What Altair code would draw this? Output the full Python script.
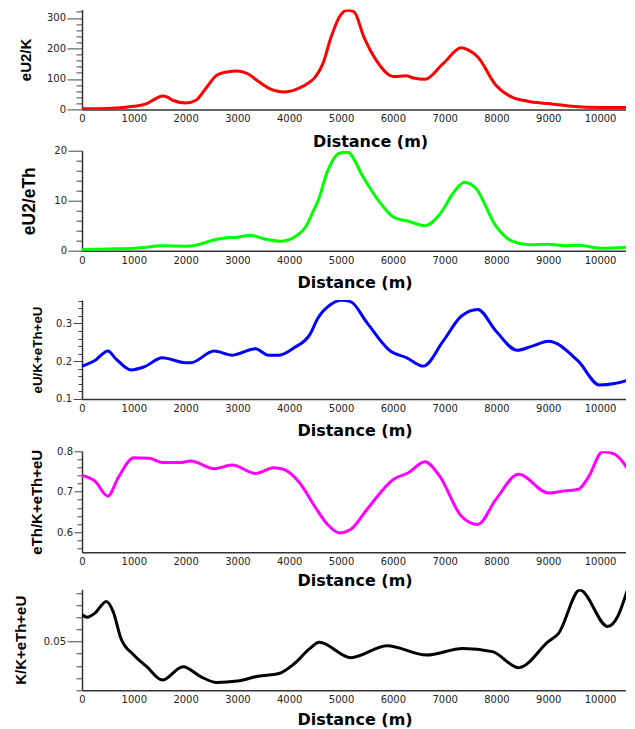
import altair as alt
import pandas as pd

# ---- data ----
d1 = [0, 500, 800, 1000, 1250, 1400, 1550, 1650, 1750, 2000, 2200, 2400, 2600, 2800, 3000, 3200, 3400,
      3600, 3900, 4170, 4400, 4500, 4650, 4810, 4970, 5120, 5250, 5440, 5700, 6010, 6250, 6400,
      6620, 6970, 7320, 7450, 7640, 7990, 8300, 8600, 9000, 9450, 10020, 10520]
v1 = [2, 3, 6, 10, 19, 33, 44, 40, 30, 21, 30, 71, 112, 123, 126, 117, 92,
      70, 57, 68, 90, 106, 150, 238, 304, 325, 320, 238, 156, 108, 110, 103,
      99, 150, 202, 195, 172, 79, 40, 27, 19, 10, 6, 6]

d2 = [0, 500, 1000, 1250, 1500, 1750, 2000, 2200, 2400, 2600, 2800, 3000, 3250, 3500, 3850, 4000,
      4170, 4300, 4490, 4550, 4740, 4965, 5120, 5440, 5730, 6015, 6300, 6620, 6900, 7190, 7380,
      7600, 7990, 8300, 8620, 9000, 9320, 9580, 10020, 10520]
v2 = [0.2, 0.35, 0.5, 0.7, 1.0, 0.95, 0.9, 1.1, 1.7, 2.3, 2.6, 2.7, 3.1, 2.4, 1.9, 2.2,
      3.2, 4.5, 8.5, 9.8, 15.9, 19.5, 19.7, 14.5, 9.9, 6.7, 5.9, 5.0, 7.2, 11.9, 13.7,
      12.5, 4.9, 1.9, 1.2, 1.3, 1.0, 1.1, 0.5, 0.7]

d3 = [0, 250, 500, 650, 950, 1200, 1550, 2000, 2100, 2550, 2900, 3350, 3600, 3800, 4100, 4400,
      4550, 4800, 5000, 5190, 5500, 5950, 6270, 6590, 6970, 7320, 7640, 7990, 8400, 8690, 9000,
      9580, 9990, 10280, 10520]
v3 = [0.187, 0.202, 0.227, 0.207, 0.177, 0.185, 0.209, 0.196, 0.196, 0.227, 0.216, 0.233, 0.216,
      0.216, 0.236, 0.271, 0.313, 0.350, 0.361, 0.357, 0.302, 0.227, 0.209, 0.187, 0.253, 0.319,
      0.337, 0.280, 0.229, 0.240, 0.253, 0.200, 0.137, 0.141, 0.149]

d4 = [0, 250, 500, 700, 1000, 1300, 1550, 1900, 2100, 2550, 2900, 3350, 3700, 3900, 4200, 4490,
      4740, 4965, 5190, 5500, 6015, 6300, 6620, 6900, 7320, 7640, 7990, 8430, 9000, 9320, 9580,
      9770, 10050, 10280, 10520]
v4 = [0.740, 0.726, 0.689, 0.735, 0.784, 0.783, 0.772, 0.772, 0.776, 0.757, 0.766, 0.745, 0.759,
      0.755, 0.722, 0.664, 0.619, 0.598, 0.607, 0.656, 0.731, 0.747, 0.774, 0.739, 0.640, 0.619,
      0.681, 0.743, 0.697, 0.702, 0.706, 0.735, 0.799, 0.793, 0.759]

d5 = [0, 100, 250, 470, 600, 750, 1000, 1250, 1550, 1950, 2300, 2600, 3000, 3400, 3800, 4100,
      4400, 4580, 5190, 5890, 6650, 7350, 7920, 8430, 9000, 9200, 9610, 10150, 10340, 10520]
v5 = [0.0610, 0.0600, 0.0617, 0.0665, 0.0624, 0.0514, 0.0445, 0.0397, 0.0342, 0.0397, 0.0355,
      0.0332, 0.0338, 0.0358, 0.0369, 0.0410, 0.0472, 0.0497, 0.0434, 0.0483, 0.0445, 0.0472,
      0.0459, 0.0393, 0.0500, 0.0534, 0.0712, 0.0562, 0.0603, 0.0707]

x_ticks = list(range(0, 10001, 1000))
X_TITLE = "Distance (m)"
PLOT_W = 545


def frange(a, b, step):
    n = int(round((b - a) / step))
    return [round(a + i * step, 6) for i in range(n + 1)]


def major_test(step):
    return f"abs(datum.value/{step} - round(datum.value/{step})) < 1e-6"


def panel(dist, vals, color, ytitle, ydomain, yticks, major, fmt, big, small,
          tfs, tx, height, x_title_x=None, x_title_pad=9.1, top_offset=None):
    df = pd.DataFrame({"d": dist, "v": vals})
    yaxis = alt.Axis(
        values=yticks,
        format=fmt,
        labelExpr=f"({major_test(major)}) ? datum.label : ''",
        tickSize={"condition": {"test": major_test(major), "value": big}, "value": small},
        tickColor="#444", tickWidth=1,
        labelPadding=1.5, labelFont="DejaVu Sans", labelFontSize=10, labelColor="#222",
        labelFlush=False, labelOverlap=False,
        domainColor="#333", domainWidth=1.5, grid=False,
        title=ytitle, titleFont="Liberation Sans", titleFontSize=tfs, titleFontWeight="bold",
        titleColor="black", titleX=tx, titleY=height / 2,
    )
    xaxis_kw = dict(
        values=x_ticks, format="d", ticks=False,
        labelPadding=4.6, labelFont="DejaVu Sans", labelFontSize=10, labelColor="#222",
        labelFlush=False, labelOverlap=False,
        domainColor="#333", domainWidth=1.5, grid=False,
        title=X_TITLE, titleFont="DejaVu Sans", titleFontSize=16, titleFontWeight="bold",
        titleColor="black", titlePadding=x_title_pad,
    )
    if x_title_x is not None:
        xaxis_kw["titleX"] = x_title_x
    xaxis = alt.Axis(**xaxis_kw)
    ch = alt.Chart(df).mark_line(
        color=color, strokeWidth=3, interpolate="monotone", clip=True,
        strokeJoin="round", strokeCap="round",
    ).encode(
        x=alt.X("d:Q", scale=alt.Scale(domain=[0, 10520], nice=False, zero=False), axis=xaxis),
        y=alt.Y("v:Q", scale=alt.Scale(domain=ydomain, nice=False, zero=False), axis=yaxis),
        order="d:Q",
    )
    props = dict(width=PLOT_W, height=height)
    if top_offset is not None:
        props["title"] = alt.TitleParams(" ", fontSize=1, offset=top_offset)
    return ch.properties(**props)


p1 = panel(d1, v1, "#ff0000", "eU2/K", [0, 328], frange(0, 320, 20), 100, "d", 15, 6, 15, -48.6, 100,
           x_title_x=288)
p2 = panel(d2, v2, "#00ff00", "eU2/eTh", [0, 20], frange(0, 20, 2), 10, "d", 14, 6, 17.5, -43.2, 100)
p3 = panel(d3, v3, "#0000ff", "eU/K+eTh+eU", [0.1, 0.362], frange(0.1, 0.36, 0.02), 0.1, ".1f", 9, 4,
           13.4, -38, 99, top_offset=6.8)
p4 = panel(d4, v4, "#ff00ff", "eTh/K+eTh+eU", [0.55, 0.8], frange(0.56, 0.8, 0.02), 0.1, ".1f", 8, 5,
           15, -37.1, 101, x_title_pad=6.0, top_offset=9.2)
p5 = panel(d5, v5, "#000000", "K/K+eTh+eU", [0.03, 0.0715], frange(0.03, 0.07, 0.005), 0.05, ".2f", 15, 6,
           15, -53.6, 101, x_title_pad=6.5)

chart = alt.vconcat(p1, p2, p3, p4, p5, spacing=-3.7).properties(
    padding={"left": 5, "top": -1.6, "right": -1.5, "bottom": 0}
).configure_view(stroke=None)

chart.save("out.html", embed_options={"renderer": "svg", "actions": False})
